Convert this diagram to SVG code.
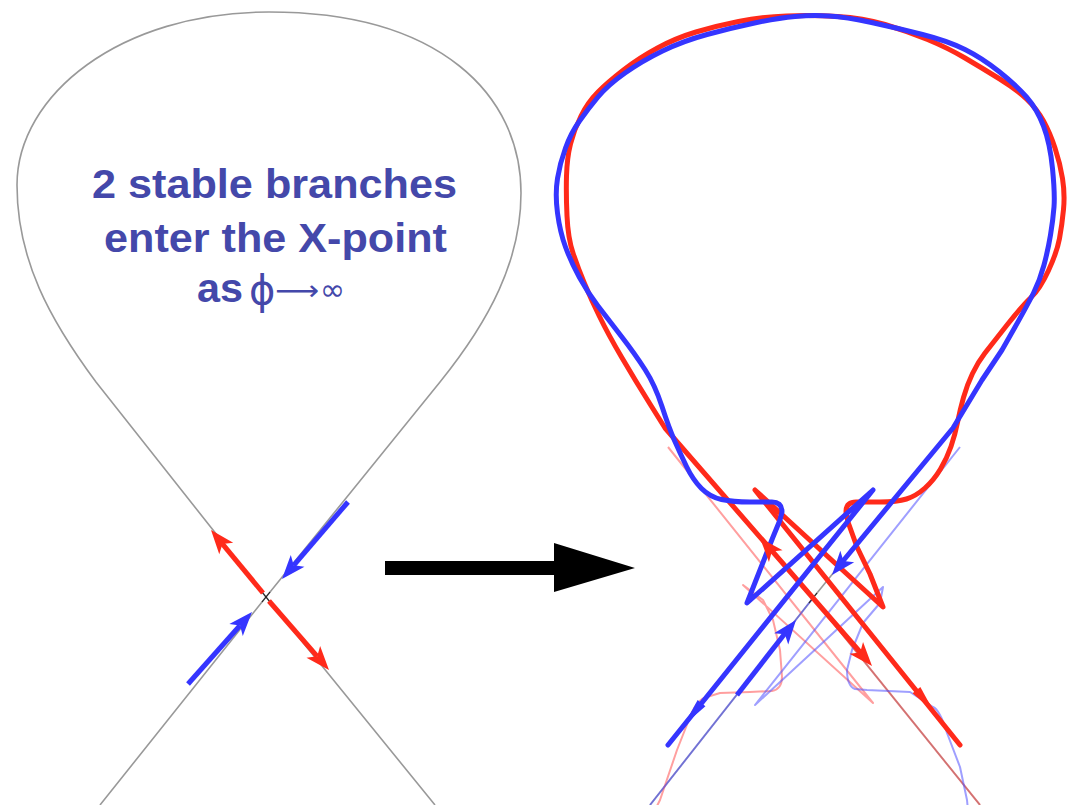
<svg xmlns="http://www.w3.org/2000/svg" xmlns:xlink="http://www.w3.org/1999/xlink" width="1082" height="805" viewBox="0 0 1082 805">
<style>
.sep{fill:none;stroke:#999;stroke-width:1.6}
.xm{stroke:#222;stroke-width:1.2}
.tr{fill:none;stroke:#ff2a1a;stroke-width:5;stroke-linejoin:round;stroke-linecap:round}
.tb{fill:none;stroke:#3535ff;stroke-width:5;stroke-linejoin:round;stroke-linecap:round}
.nr{fill:none;stroke:#ff5050;stroke-width:2;stroke-opacity:0.55;stroke-linejoin:round}
.nb{fill:none;stroke:#5050ff;stroke-width:2;stroke-opacity:0.55;stroke-linejoin:round}
.ar{fill:#ff2a1a}
.ab{fill:#3535ff}
.lbl{font-family:"Liberation Sans",Arial,sans-serif;font-weight:bold;font-size:40px;fill:#4448aa}
.sym{font-family:"DejaVu Sans","Liberation Sans",sans-serif;font-weight:normal;fill:#4448aa}
</style>
<defs>
<path id="ah" d="M0,0 L-24,-9 L-18,0 L-24,9 Z"/>
<path id="ahs" d="M0,0 L-28,-5 L-28,5 Z"/>
</defs>

<g id="left-panel">
<path class="sep" d="M100 805 L266 597 L440 382 C490 320 521 260 521 193 C521 95 440 12 269 12 C120 12 17 95 17 185 C17 260 50 320 96 382 L266 597 L435 805"/>
<line class="xm" x1="262" y1="592" x2="270" y2="602"/>
<line class="xm" x1="270" y1="592" x2="262" y2="602"/>
<line class="tr" x1="263" y1="593" x2="222.4" y2="543.9" style="stroke-linecap:butt"/>
<use href="#ah" class="ar" transform="translate(211 530) rotate(-129.4)"/>
<line class="tr" x1="269" y1="601" x2="317.2" y2="656.4" style="stroke-linecap:butt"/>
<use href="#ah" class="ar" transform="translate(329 670) rotate(49.2)"/>
<line class="tb" x1="348" y1="502" x2="293.7" y2="565.3" style="stroke-linecap:butt"/>
<use href="#ah" class="ab" transform="translate(282 579) rotate(130.6)"/>
<line class="tb" x1="188" y1="684" x2="240" y2="625.5" style="stroke-linecap:butt"/>
<use href="#ah" class="ab" transform="translate(252 612) rotate(-48.4)"/>
</g>

<g id="label">
<text class="lbl" x="92" y="198" textLength="365" lengthAdjust="spacingAndGlyphs">2 stable branches</text>
<text class="lbl" x="104" y="252" textLength="343" lengthAdjust="spacingAndGlyphs">enter the X-point</text>
<text class="lbl" x="197" y="302" textLength="46" lengthAdjust="spacingAndGlyphs">as</text>
<text class="sym" x="249" y="304" font-size="40">ϕ</text>
<text class="sym" x="275" y="300" font-size="28" textLength="44" lengthAdjust="spacingAndGlyphs">⟶</text>
<text class="sym" x="320" y="300" font-size="30">∞</text>
</g>

<g id="connectors">
<path d="M385 561 H554 V543 L635 568 L554 592 V575 H385 Z" fill="#000"/>
</g>

<g id="right-panel">
<line class="sep" x1="813" y1="598" x2="980" y2="805"/>
<line class="sep" x1="813" y1="598" x2="650" y2="805"/>
<line class="sep" x1="813" y1="598" x2="843" y2="561"/>
<path class="nr" d="M813 598 L980 805 M655 810 L660 800 L677 750 L690 717 Q697 699 707 697 L720 693 L750 692 L772 691 Q782 689 782 677 L780 650 L773 620 L763 600 L743 585 L873 703 L668 447"/>
<path class="nb" d="M813 598 L650 805 M968 810 L967 800 L960 767 L947 733 Q940 710 933 707 L910 692 L867 690 L855 689 Q847 686 847 670 L852 650 L863 623 L880 603 L883 587 L755 705 L960 447"/>
<line class="xm" x1="809" y1="593" x2="817" y2="603"/>
<line class="xm" x1="817" y1="593" x2="809" y2="603"/>
<path class="tr" d="M860 652 L813 598 L665 428 L650 404 Q635 380 621.5 357 Q608 334 599.5 316.5 Q591 299 584.5 283.5 Q578 268 573 253 Q568 238 567 216 Q566 194 566.5 176 Q567 158 570.5 144 Q574 130 581 116 Q588 102 598 92 Q608 82 623.5 70 Q639 58 657.5 48 Q676 38 696 32 Q716 26 738.5 21.5 Q761 17 786.5 16 Q812 15 837.5 16.5 Q863 18 885 24.5 Q907 31 927.5 39.5 Q948 48 965 58 Q982 68 999 78.5 Q1016 89 1026.5 99 Q1037 109 1043.5 121 Q1050 133 1055 148 Q1060 163 1062.5 178.5 Q1065 194 1063.5 209.5 Q1062 225 1059.5 238.5 Q1057 252 1048.5 270.5 Q1040 289 1031 297.5 Q1022 306 1007 325 Q992 344 985 353 Q978 362 972.5 373.5 Q967 385 963.5 397.5 Q960 410 957.5 422.5 Q955 435 951 446.5 Q947 458 940.5 469 Q934 480 925 488 Q916 496 906.5 499 Q897 502 880 502 L856 502 Q846 502 846 512 L848 522 L857 547 L870 574 L883 607 L755 490 L960 745"/>
<path class="tb" d="M843 561 L953 428 L982 380 L1002 350 L1014.5 328 Q1027 306 1033.5 293 Q1040 280 1044 265 Q1048 250 1050.5 235 Q1053 220 1054 207 Q1055 194 1052.5 168.5 Q1050 143 1043.5 126 Q1037 109 1026.5 97 Q1016 85 999 71.5 Q982 58 965 49.5 Q948 41 922.5 34.5 Q897 28 871.5 22.5 Q846 17 829 16 Q812 15 795 16.5 Q778 18 754.5 23 Q731 28 707 34.5 Q683 41 662.5 51 Q642 61 625 73 Q608 85 598 97 Q588 109 579.5 121 Q571 133 565.5 148 Q560 163 557.5 178.5 Q555 194 557.5 213 Q560 232 565.5 247 Q571 262 579.5 277.5 Q588 293 598 306 Q608 319 621.5 336.5 Q635 354 645 369.5 Q655 385 662 406.5 Q669 428 674.5 440.5 Q680 453 686.5 466.5 Q693 480 701.5 488.5 Q710 497 721.5 499.5 Q733 502 750 502 L772 502 Q782 502 782 512 L780 520 L773 537 L760 570 L747 603 L873 490 L668 745"/>
<line class="tb" x1="737" y1="695" x2="784.5" y2="634" style="stroke-linecap:butt"/>
<use href="#ah" class="ar" transform="translate(760 538) rotate(-131)"/>
<use href="#ah" class="ar" transform="translate(872 666) rotate(49)"/>
<use href="#ah" class="ab" transform="translate(832 575) rotate(129.5)"/>
<use href="#ah" class="ab" transform="translate(796 620) rotate(-51.8)"/>
<use href="#ahs" class="ab" transform="translate(684 725) rotate(128.8)"/>
<use href="#ahs" class="ar" transform="translate(934 712) rotate(51.2)"/>
</g>
</svg>
